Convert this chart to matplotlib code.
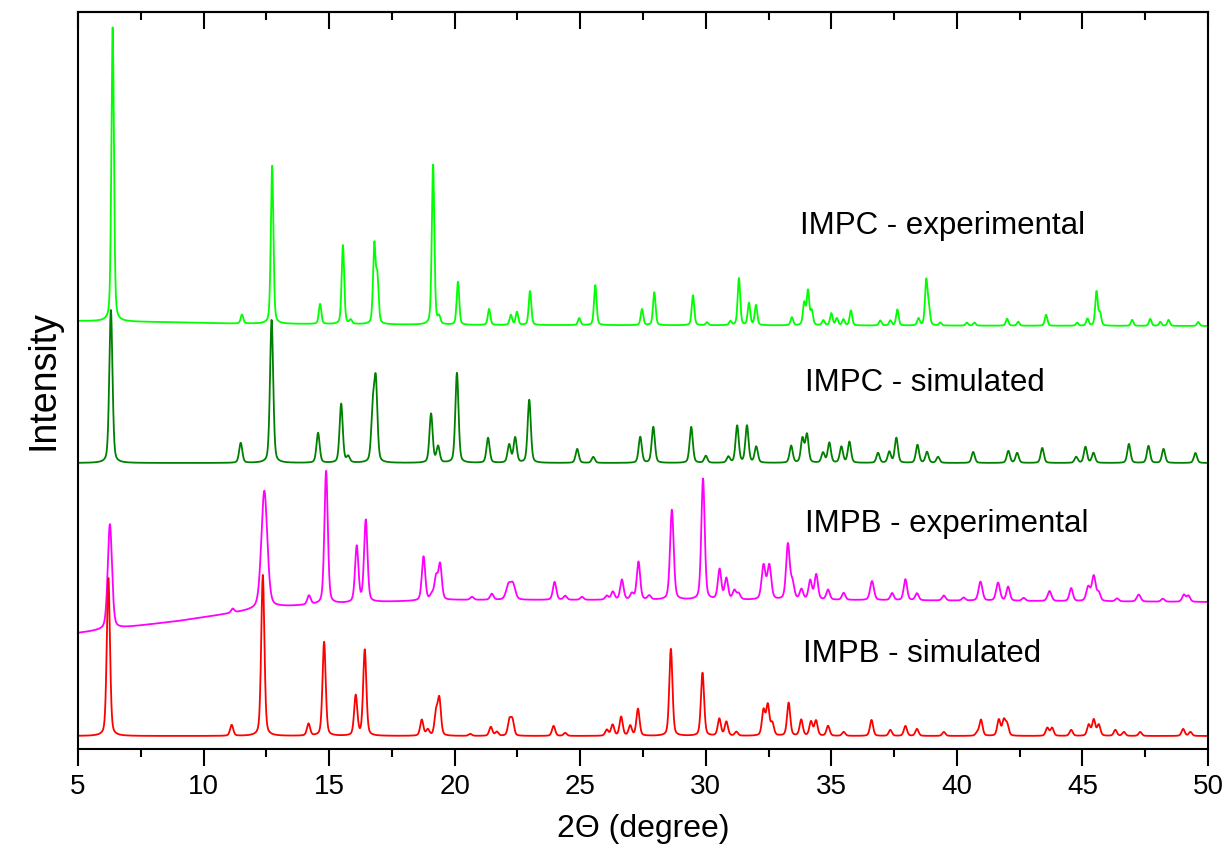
"""
XRD patterns: IMPC / IMPB, experimental vs simulated, stacked with offsets.
"""
import numpy as np
import matplotlib
matplotlib.use("Agg")
import matplotlib.pyplot as plt
from matplotlib.ticker import MultipleLocator

plt.rcParams["font.family"] = ["Liberation Sans", "DejaVu Sans"]

# ── Peak lists (2theta, height above background) ──
IMPC_EXP_POS = [6.38, 11.53, 12.73, 14.64, 15.55, 15.86, 16.80, 16.92, 19.14, 19.38,
                20.13, 21.37, 22.24, 22.48, 23.00, 24.96, 25.60, 27.46, 27.95, 29.49,
                30.05, 30.98, 31.32, 31.72, 32.00, 33.43, 33.92, 34.07, 34.22, 34.68,
                35.00, 35.22, 35.48, 35.78, 36.95, 37.35, 37.63, 38.47, 38.78, 38.88,
                39.34, 40.40, 40.70, 42.00, 42.44, 43.55, 44.79, 45.20, 45.56, 45.70,
                46.98, 47.70, 48.10, 48.43, 49.61]
IMPC_EXP_HGT = [294, 9, 158, 20, 79, 4, 78, 45, 160, 7,
                43, 16, 10, 13, 34, 7, 40, 16, 33, 30,
                3, 4, 47, 22, 20, 8, 22, 34, 14, 5,
                12, 7, 6, 15, 5, 5, 16, 7, 44, 16,
                3, 3, 3, 7, 4, 11, 3, 7, 34, 12,
                6, 7, 4, 6, 4]
IMPC_EXP_BG_X = [5, 8, 11, 20, 50]
IMPC_EXP_BG_Y = [428, 427, 425.5, 424, 423]
IMPC_EXP_FWHM = 0.12

IMPC_SIM_POS = [6.31, 11.48, 12.71, 14.56, 15.48, 15.76, 16.74, 16.86, 19.06, 19.34,
                20.09, 21.33, 22.17, 22.41, 22.97, 24.88, 25.52, 27.39, 27.91, 29.42,
                30.00, 30.90, 31.25, 31.64, 32.01, 33.40, 33.85, 34.03, 34.67, 34.92,
                35.40, 35.72, 36.86, 37.31, 37.59, 38.43, 38.81, 39.25, 40.65, 42.05,
                42.40, 43.40, 44.75, 45.12, 45.44, 46.85, 47.63, 48.23, 49.50]
IMPC_SIM_HGT = [153, 20, 143, 30, 59, 6, 50, 78, 49, 16,
                90, 25, 18, 25, 63, 14, 6, 26, 36, 36,
                7, 6, 37, 37, 16, 17, 24, 28, 10, 20,
                16, 21, 10, 11, 25, 18, 11, 6, 11, 12,
                10, 15, 6, 16, 10, 19, 17, 14, 10]
IMPC_SIM_BG_X = [5, 50]
IMPC_SIM_BG_Y = [286, 286]
IMPC_SIM_FWHM = 0.15

IMPB_EXP_POS = [6.27, 11.16, 12.42, 14.20, 14.88, 16.10, 16.46, 18.76, 19.09, 19.26,
                19.42, 20.69, 21.48, 22.14, 22.32, 23.98, 24.40, 25.07, 26.06, 26.30,
                26.66, 27.06, 27.32, 27.75, 28.65, 29.89, 30.55, 30.82, 31.14, 31.31,
                32.30, 32.53, 33.27, 33.45, 33.81, 34.16, 34.40, 34.87, 35.49, 36.62,
                37.42, 37.95, 38.41, 39.48, 40.27, 40.94, 41.64, 42.04, 42.66, 43.69,
                44.55, 45.23, 45.45, 45.65, 46.38, 47.24, 48.20, 49.04, 49.22]
IMPB_EXP_HGT = [105, 4, 118, 9, 133, 56, 82, 44, 5, 22,
                35, 3, 6, 14, 15, 18, 4, 3, 4, 8,
                20, 6, 38, 4, 90, 121, 30, 21, 9, 6,
                34, 34, 55, 16, 10, 19, 25, 10, 7, 19,
                7, 21, 7, 5, 3, 19, 18, 14, 3, 10,
                13, 14, 25, 8, 3, 7, 3, 7, 6]
IMPB_EXP_FWHM = [0.20, 0.15, 0.28, 0.16, 0.16, 0.16, 0.16, 0.16, 0.16, 0.16,
                 0.16, 0.16, 0.16, 0.22, 0.22, 0.16, 0.16, 0.16, 0.16, 0.16,
                 0.16, 0.16, 0.16, 0.16, 0.17, 0.16, 0.16, 0.16, 0.16, 0.16,
                 0.18, 0.18, 0.17, 0.17, 0.16, 0.16, 0.16, 0.16, 0.16, 0.18,
                 0.16, 0.16, 0.16, 0.16, 0.16, 0.18, 0.18, 0.16, 0.16, 0.18,
                 0.16, 0.18, 0.18, 0.16, 0.16, 0.18, 0.16, 0.16, 0.16]
IMPB_EXP_BG_X = [5, 6, 7, 9, 12, 13, 15, 17, 20, 35, 50]
IMPB_EXP_BG_Y = [116, 119, 122, 128, 139, 142, 145, 147, 149, 149, 147]

IMPB_SIM_POS = [6.21, 11.12, 12.36, 14.18, 14.80, 16.06, 16.42, 18.69, 18.93, 19.26,
                19.39, 20.62, 21.44, 21.68, 22.18, 22.30, 23.94, 24.40, 26.06, 26.29,
                26.63, 26.99, 27.30, 28.61, 29.87, 30.54, 30.82, 31.22, 32.30, 32.47,
                32.65, 33.30, 33.80, 34.19, 34.39, 34.87, 35.49, 36.60, 37.35, 37.95,
                38.41, 39.48, 40.81, 40.96, 41.67, 41.87, 42.00, 43.60, 43.79, 44.55,
                45.25, 45.45, 45.65, 46.31, 46.65, 47.30, 49.01, 49.30]
IMPB_SIM_HGT = [158, 11, 161, 12, 94, 40, 86, 16, 6, 22,
                36, 2, 9, 4, 15, 15, 10, 3, 6, 11,
                19, 10, 27, 87, 63, 17, 14, 4, 25, 30,
                12, 33, 16, 14, 15, 10, 4, 16, 6, 10,
                7, 4, 3, 16, 16, 15, 11, 8, 8, 6,
                11, 16, 11, 6, 4, 4, 7, 4]
IMPB_SIM_BG_X = [5, 50]
IMPB_SIM_BG_Y = [13, 13]
IMPB_SIM_FWHM = 0.15

LABELS = ["IMPC - experimental", "IMPC - simulated", "IMPB - experimental", "IMPB - simulated"]
LABEL_X = [33.76, 33.96, 33.96, 33.88]
LABEL_Y = [523, 366, 225, 95]


def pattern(tt, pos, hgt, fwhm, bg_x, bg_y, eta=0.35):
    """Pseudo-Voigt peaks on top of a piecewise-linear background."""
    pos = np.asarray(pos, float)
    hgt = np.asarray(hgt, float)
    w = np.broadcast_to(np.asarray(fwhm, float), pos.shape)
    d = tt[:, None] - pos[None, :]
    hw = w[None, :] / 2
    lor = 1.0 / (1.0 + (d / hw) ** 2)
    gau = np.exp(-np.log(2) * (d / hw) ** 2)
    return np.interp(tt, bg_x, bg_y) + ((eta * lor + (1 - eta) * gau) * hgt).sum(1)


tt = np.linspace(5, 50, 9001)

series = [
    (IMPC_EXP_POS, IMPC_EXP_HGT, IMPC_EXP_FWHM, IMPC_EXP_BG_X, IMPC_EXP_BG_Y, "#00ff00"),
    (IMPC_SIM_POS, IMPC_SIM_HGT, IMPC_SIM_FWHM, IMPC_SIM_BG_X, IMPC_SIM_BG_Y, "#008000"),
    (IMPB_EXP_POS, IMPB_EXP_HGT, IMPB_EXP_FWHM, IMPB_EXP_BG_X, IMPB_EXP_BG_Y, "#ff00ff"),
    (IMPB_SIM_POS, IMPB_SIM_HGT, IMPB_SIM_FWHM, IMPB_SIM_BG_X, IMPB_SIM_BG_Y, "#ff0000"),
]

fig = plt.figure(figsize=(12.27, 8.61), dpi=100)
ax = fig.add_axes([78 / 1227, 1 - 749 / 861, 1130 / 1227, 737 / 861])

for pos, hgt, fw, bx, by, col in series:
    ax.plot(tt, pattern(tt, pos, hgt, fw, bx, by), color=col, lw=1.3)

for lab, lx, ly in zip(LABELS, LABEL_X, LABEL_Y):
    ax.text(lx, ly, lab, fontsize=22.5, va="center", ha="left")

ax.set_xlim(5, 50)
ax.set_ylim(0, 737)
ax.xaxis.set_major_locator(MultipleLocator(5))
ax.xaxis.set_minor_locator(MultipleLocator(2.5))
ax.tick_params(axis="x", which="both", bottom=True, top=False, direction="out",
               labelsize=20, width=1.5, pad=6)
ax.tick_params(axis="x", which="major", length=12)
ax.tick_params(axis="x", which="minor", length=6)
ax.set_yticks([])

# top axis: inward ticks, no labels
top = ax.secondary_xaxis("top")
top.xaxis.set_major_locator(MultipleLocator(5))
top.xaxis.set_minor_locator(MultipleLocator(2.5))
top.tick_params(which="both", direction="in", labeltop=False, width=1.5)
top.tick_params(which="major", length=12)
top.tick_params(which="minor", length=6)

for sp in ax.spines.values():
    sp.set_linewidth(1.5)
top.spines["top"].set_linewidth(1.5)

ax.set_xlabel("2\u0398 (degree)", fontsize=23, labelpad=10)
ax.set_ylabel("Intensity", fontsize=27, labelpad=12)

fig.savefig("out.png", dpi=100)
